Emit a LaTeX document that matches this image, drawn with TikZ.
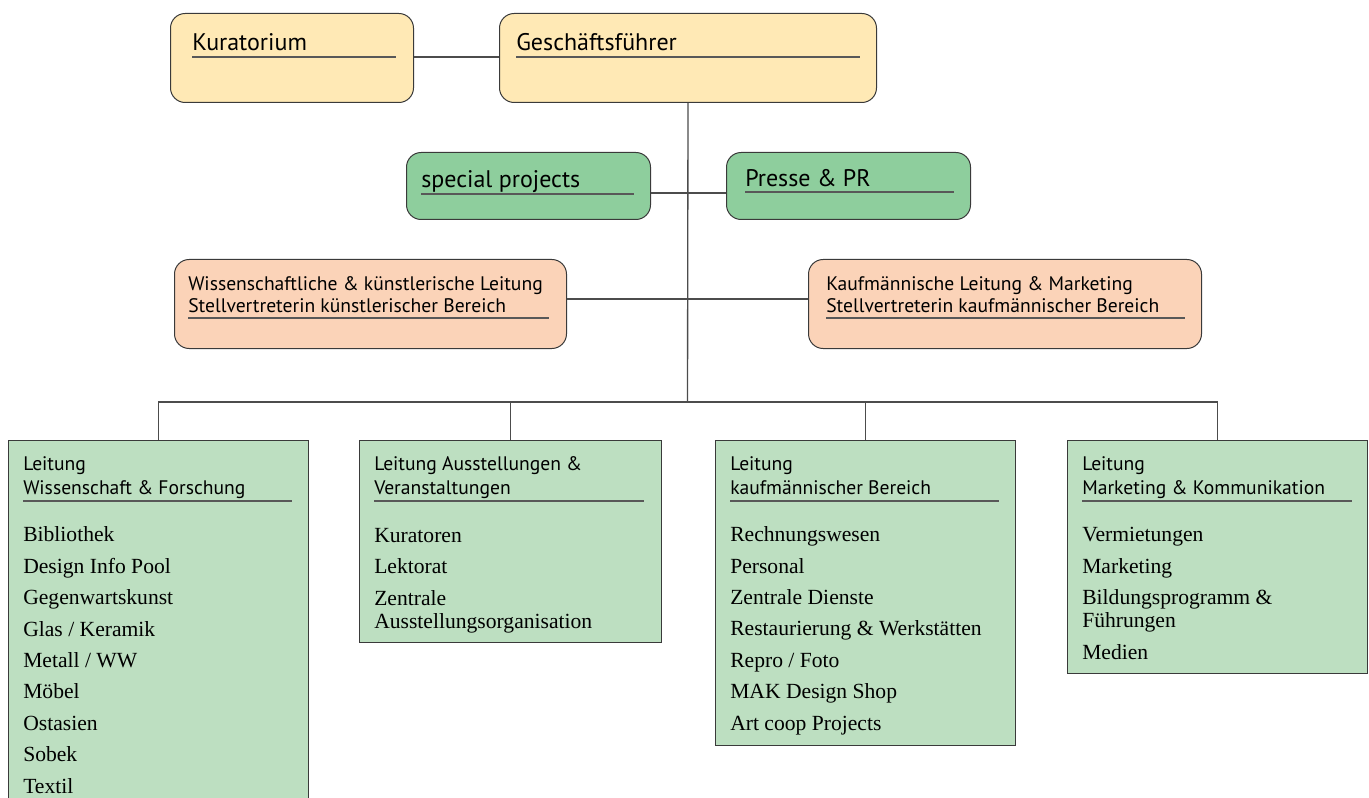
\documentclass[tikz,border=0pt]{standalone}
\usepackage{fontspec}
\setmainfont{Liberation Serif}
\setsansfont{PT Sans}
\definecolor{kopf}{HTML}{FFE9B5}
\definecolor{stab}{HTML}{8ECE9D}
\definecolor{leit}{HTML}{FBD3B8}
\definecolor{abt}{HTML}{BDDFC1}
\definecolor{rand}{HTML}{3A3A3A}

\begin{document}
\begin{tikzpicture}[x=0.75pt,y=-0.75pt,
	wh/.style 2 args={minimum width=#1*0.75pt,minimum height=#2*0.75pt,anchor=north west,inner sep=0pt},
	rbox/.style={draw=rand,line width=0.75pt,rounded corners=11pt},
	sbox/.style={draw=rand,line width=0.9pt,fill=abt},
	head/.style={font=\sffamily\fontsize{18}{20}\selectfont,align=left,anchor=base west,inner sep=0pt},
	sub/.style={font=\sffamily\fontsize{14.7}{16.5}\selectfont,align=left,anchor=base west,inner sep=0pt},
	list/.style={font=\fontsize{16.2}{17.25}\selectfont,align=left,anchor=base west,inner sep=0pt},
	uline/.style={draw=rand!85,line width=1pt},
	link/.style={draw=black!70,line width=1pt}]
\useasboundingbox (0,0) rectangle (1369,798);
\clip (0,0) rectangle (1369,798);

\node[rbox,fill=kopf,wh={243}{89}] (kur) at (170,13) {};
\node[rbox,fill=kopf,wh={377}{89}] (gf) at (499,13) {};
\node[rbox,fill=stab,wh={244}{67}] (sp) at (406,152) {};
\node[rbox,fill=stab,wh={244}{67}] (pr) at (726,152) {};
\node[rbox,fill=leit,wh={392}{89}] (wl) at (174,259) {};
\node[rbox,fill=leit,wh={393}{89}] (kl) at (808,259) {};
\node[sbox,wh={300}{420}] (b1) at (8,440) {};
\node[sbox,wh={302}{202}] (b2) at (359,440) {};
\node[sbox,wh={300}{305}] (b3) at (715,440) {};
\node[sbox,wh={300}{233}] (b4) at (1067,440) {};

\node[head] (kurt) at (192,51) {Kuratorium};
\node[head] (gft) at (516,51) {Geschäftsführer};
\node[head] (spt) at (421,188) {special projects};
\node[head] (prt) at (745,187) {Presse \& PR};
\node[sub] (wlt) at (188,312) {Wissenschaftliche \& künstlerische Leitung\\Stellvertreterin künstlerischer Bereich};
\node[sub] (klt) at (826,312) {Kaufmännische Leitung \& Marketing\\Stellvertreterin kaufmännischer Bereich};
\node[sub,font=\sffamily\fontsize{14.7}{18}\selectfont] (b1t) at (23,494) {Leitung\\Wissenschaft \& Forschung};
\node[sub,font=\sffamily\fontsize{14.7}{18}\selectfont] (b2t) at (374,494) {Leitung Ausstellungen \&\\Veranstaltungen};
\node[sub,font=\sffamily\fontsize{14.7}{18}\selectfont] (b3t) at (730,494) {Leitung\\kaufmännischer Bereich};
\node[sub,font=\sffamily\fontsize{14.7}{18}\selectfont] (b4t) at (1082,494) {Leitung\\Marketing \& Kommunikation};

\node[list] (b1l) at (23,793) {Bibliothek\\[6.3pt]Design Info Pool\\[6.3pt]Gegenwartskunst\\[6.3pt]Glas / Keramik\\[6.3pt]Metall / WW\\[6.3pt]Möbel\\[6.3pt]Ostasien\\[6.3pt]Sobek\\[6.3pt]Textil};
\node[list] (b2l) at (374,628) {Kuratoren\\[6.3pt]Lektorat\\[6.3pt]Zentrale\\Ausstellungsorganisation};
\node[list] (b3l) at (730,730) {Rechnungswesen\\[6.3pt]Personal\\[6.3pt]Zentrale Dienste\\[6.3pt]Restaurierung \& Werkstätten\\[6.3pt]Repro / Foto\\[6.3pt]MAK Design Shop\\[6.3pt]Art coop Projects};
\node[list] (b4l) at (1082,659) {Vermietungen\\[6.3pt]Marketing\\[6.3pt]Bildungsprogramm \&\\Führungen\\[6.3pt]Medien};

\coordinate (kurl) at (192,57);
\coordinate (gfl) at (516,57);
\coordinate (spl) at (421,194);
\coordinate (prl) at (745,192);
\coordinate (wll) at (188,318);
\coordinate (kll) at (826,318);
\draw[uline] (kurl) -- ++(204,0);
\draw[uline] (gfl) -- ++(344,0);
\draw[uline] (spl) -- ++(213,0);
\draw[uline] (prl) -- ++(209,0);
\draw[uline] (wll) -- ++(361,0);
\draw[uline] (kll) -- ++(359,0);
\draw[uline] (23,501) -- ++(269,0);
\draw[uline] (374,501) -- ++(270,0);
\draw[uline] (730,501) -- ++(269,0);
\draw[uline] (1082,501) -- ++(270,0);

\coordinate (stabl) at (687.5,193);
\coordinate (leitl) at (687.5,299);
\coordinate (bus) at (687.5,402);
\draw[link] (kur.east |- kurl) -- (gf.west |- kurl);
\draw[link] (gf.south) -- (bus);
\draw[link] (sp.east |- stabl) -- (pr.west |- stabl);
\draw[link] (wl.east |- leitl) -- (kl.west |- leitl);
\draw[link] (b1.north) |- (bus) -| (b4.north);
\draw[link] (bus -| b2.north) -- (b2.north);
\draw[link] (bus -| b3.north) -- (b3.north);
\end{tikzpicture}
\end{document}
